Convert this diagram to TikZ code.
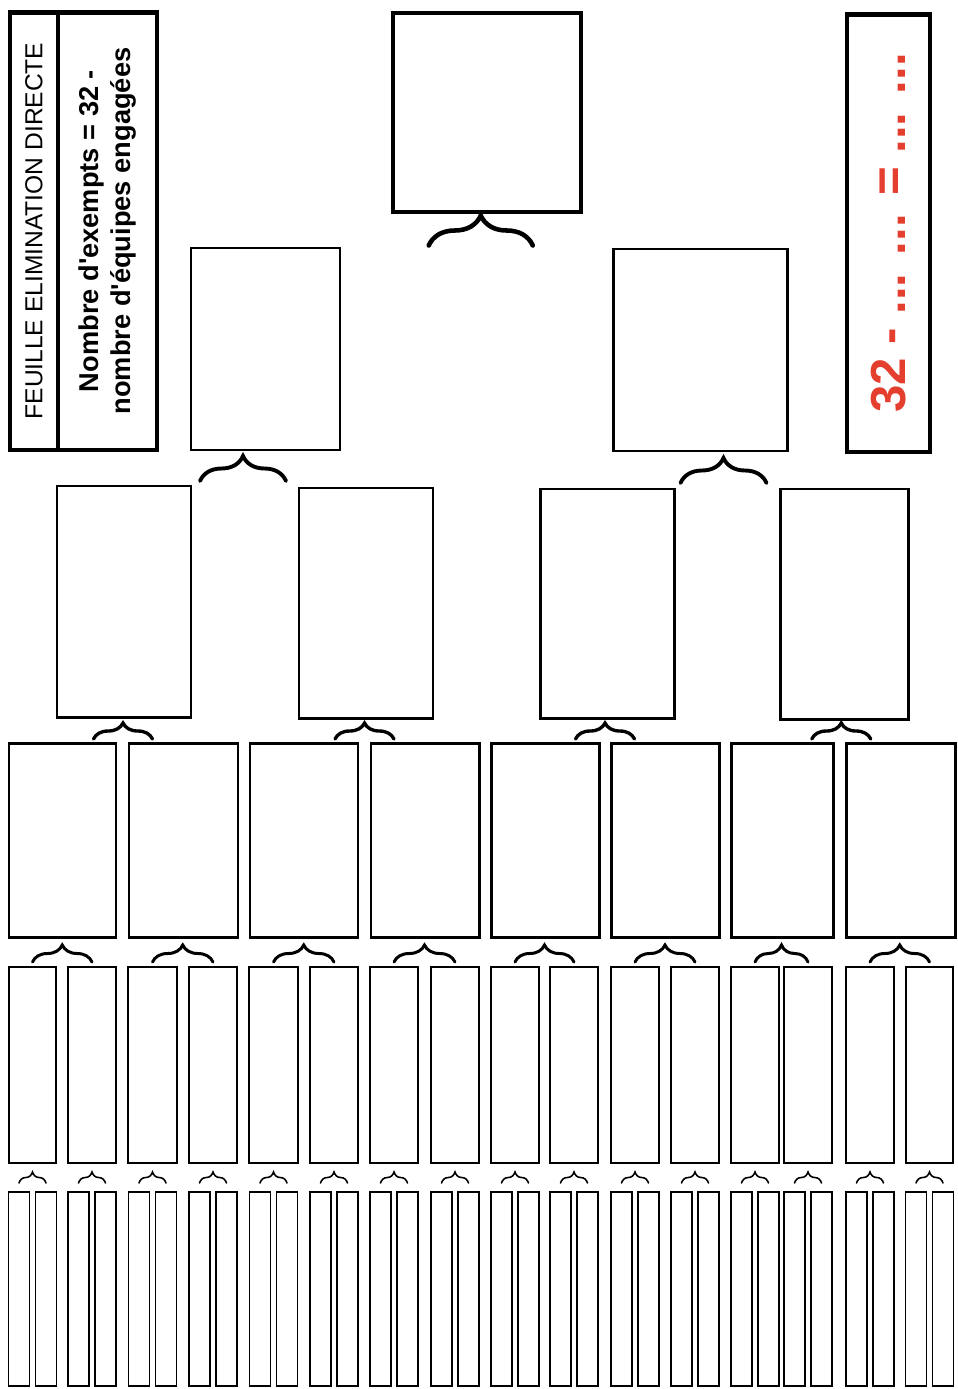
\documentclass[tikz,border=0pt]{standalone}
\usepackage{fontspec}
\setmainfont{Liberation Sans}
\usetikzlibrary{calc,decorations.pathreplacing}
\definecolor{scoreRed}{RGB}{228,62,46}

\begin{document}
\begin{tikzpicture}[x=0.02cm, y=-0.02cm]
	% Node styles
	\tikzstyle{slot} = [rectangle, draw, inner sep=0pt, outer sep=0pt, anchor=north west]
	\tikzstyle{panel} = [rectangle, draw, line width=2.8pt, inner sep=0pt, outer sep=0pt, rotate=90, align=center]
	\tikzstyle{bracket} = [decorate, line cap=round]
	
	\useasboundingbox (0,0) rectangle (957,1389);
	
	% Header panels
	\node[panel, minimum width=8.76cm, minimum height=0.96cm, font=\fontsize{14}{16}\selectfont] (title) at (34,231) {FEUILLE ELIMINATION DIRECTE};
	\node[panel, minimum width=8.76cm, minimum height=1.98cm, font=\bfseries\fontsize{15.5}{18}\selectfont] (rule) at (107.5,231) {Nombre d\textquotesingle exempts = 32 -\\nombre d\textquotesingle équipes engagées};
	\node[panel, minimum width=8.76cm, minimum height=1.66cm, text=scoreRed, font=\bfseries\fontsize{28}{32}\selectfont] (score) at (888.5,233) {32 - ... ... = ... ...};
	
	% Nodes
	\node[slot, line width=2.3pt, minimum width=3.76cm, minimum height=3.98cm] (final) at (393,13) {};
	\foreach \n/\xa/\ya/\xb/\yb in {A/191/248/340/450, B/613/249/787/451}
		\node[slot, line width=1.7pt, minimum width={(\xb-\xa)*0.02cm}, minimum height={(\yb-\ya)*0.02cm}] (semi\n) at (\xa,\ya) {};
	\foreach \n/\xa/\ya/\xb/\yb in {1/57/486/191/717, 2/299/488/433/718, 3/540/489/674/718, 4/780/489/908/719}
		\node[slot, line width=1.7pt, minimum width={(\xb-\xa)*0.02cm}, minimum height={(\yb-\ya)*0.02cm}] (q\n) at (\xa,\ya) {};
	\foreach \n/\xa/\xb in {1/9/116, 2/129/238, 3/250/358, 4/371/479, 5/491/599, 6/611/719, 7/731/833, 8/846/955}
		\node[slot, line width=1.7pt, minimum width={(\xb-\xa)*0.02cm}, minimum height=3.9cm] (e\n) at (\xa,743) {};
	\foreach \n/\xa/\xb in {1/9/56, 2/68/116, 3/128/177, 4/189/237, 5/249/298, 6/310/358, 7/370/418, 8/431/479,
			9/491/539, 10/550/598, 11/611/659, 12/671/719, 13/731/779, 14/784/832, 15/846/894, 16/906/953}
		\node[slot, line width=1.6pt, minimum width={(\xb-\xa)*0.02cm}, minimum height=3.92cm] (s\n) at (\xa,967) {};
	\foreach \n in {1,...,16} {
		\node[slot, anchor=north east, line width=1.1pt, minimum width=0.42cm, minimum height=3.88cm] (t\n-a) at ($(s\n.north)+(-3,225)$) {};
		\node[slot, line width=1.1pt, minimum width=0.42cm, minimum height=3.88cm] (t\n-b) at ($(s\n.north)+(3,225)$) {};
	}
	
	% Brackets
	\draw[bracket, line width=2.6pt, decoration={brace, amplitude=0.6cm}] ($(semiA.north)!0.5!(semiB.north)+(-54,-3)$) -- ($(semiA.north)!0.5!(semiB.north)+(50,-3)$);
	\foreach \a/\b in {1/2, 3/4}
		\draw[bracket, line width=2.2pt, decoration={brace, amplitude=0.5cm}] ($(q\a.north)!0.5!(q\b.north)+(-45,-6)$) -- ($(q\a.north)!0.5!(q\b.north)+(41,-6)$);
	\foreach \a/\b in {1/2, 3/4, 5/6, 7/8}
		\draw[bracket, line width=1.9pt, decoration={brace, amplitude=0.32cm}] ($(e\a.north)!0.5!(e\b.north)+(-29.5,-4)$) -- ($(e\a.north)!0.5!(e\b.north)+(29.5,-4)$);
	\foreach \n [evaluate=\n as \a using int(2*\n-1), evaluate=\n as \b using int(2*\n)] in {1,...,8}
		\draw[bracket, line width=1.7pt, decoration={brace, amplitude=0.34cm}] ($(s\a.north)+(0,-5)$) -- ($(s\b.north)+(0,-5)$);
	\foreach \n in {1,...,16}
		\draw[bracket, line width=0.9pt, decoration={brace, amplitude=0.22cm}] ($(t\n-a.north)+(0,-9)$) -- ($(t\n-b.north)+(0,-9)$);
\end{tikzpicture}
\end{document}
